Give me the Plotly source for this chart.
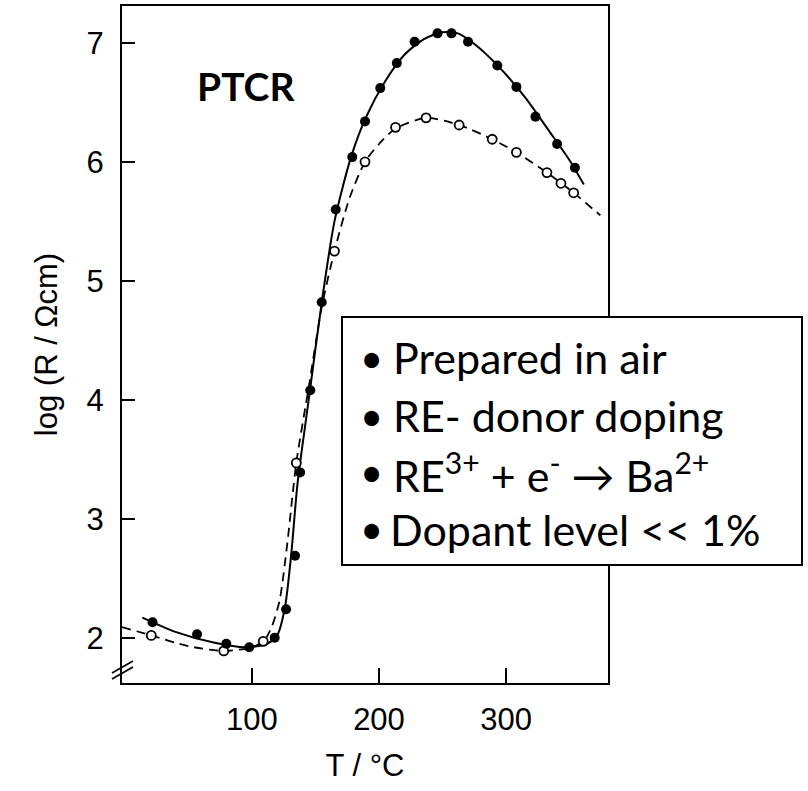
import plotly.graph_objects as go

# ---- data ----
# filled circles (solid curve series)
solid_T = [22, 57, 80, 98, 118, 127, 134, 138, 146, 155, 166, 179, 189, 201, 214, 228, 246, 257, 270, 293, 308, 323, 340, 354]
solid_logR = [2.13, 2.03, 1.95, 1.92, 2.00, 2.24, 2.69, 3.39, 4.08, 4.82, 5.60, 6.04, 6.34, 6.62, 6.83, 7.01, 7.08, 7.08, 7.01, 6.81, 6.63, 6.38, 6.15, 5.95]
# solid fitted curve
solid_curve_T = [14, 40, 70, 95, 112, 120, 126, 131, 136, 145, 155, 165, 178, 190, 205, 220, 235, 250, 262, 275, 295, 315, 335, 350, 361]
solid_curve_logR = [2.17, 2.05, 1.96, 1.92, 1.95, 2.02, 2.25, 2.70, 3.30, 4.02, 4.82, 5.50, 6.04, 6.38, 6.68, 6.90, 7.03, 7.09, 7.08, 6.99, 6.79, 6.54, 6.24, 6.01, 5.81]

# open circles (dashed curve series)
open_T = [21, 78, 109, 135, 165, 189, 213, 237, 263, 289, 308, 332, 343, 353]
open_logR = [2.02, 1.89, 1.97, 3.47, 5.25, 6.00, 6.29, 6.37, 6.31, 6.19, 6.08, 5.91, 5.82, 5.74]
# dashed fitted curve
dash_curve_T = [-2, 21, 50, 78, 100, 110, 116, 122, 128, 135, 145, 155, 165, 177, 189, 200, 213, 237, 263, 289, 308, 332, 353, 374]
dash_curve_logR = [2.09, 2.02, 1.93, 1.89, 1.92, 1.98, 2.10, 2.32, 2.80, 3.47, 4.12, 4.78, 5.25, 5.70, 6.00, 6.15, 6.28, 6.37, 6.31, 6.19, 6.08, 5.91, 5.74, 5.55]

x_ticks = [100, 200, 300]
y_ticks = [2, 3, 4, 5, 6, 7]

box_lines = [
    "Prepared in air",
    "RE- donor doping",
    "RE<sup>3+</sup> + e<sup>-</sup> → Ba<sup>2+</sup>",
    "Dopant level << 1%",
]

# ---- figure ----
W, H = 808, 791
ML, MR, MT, MB = 122, 200, 6, 108
PW, PH = W - ML - MR, H - MT - MB

def px(xp):
    return (xp - ML) / PW

def py(yp):
    return (H - MB - yp) / PH

fig = go.Figure()

fig.add_trace(go.Scatter(x=dash_curve_T, y=dash_curve_logR, mode="lines",
                         line=dict(color="black", width=1.8, dash="9px,6px", shape="spline", smoothing=0.7),
                         showlegend=False, hoverinfo="skip"))
fig.add_trace(go.Scatter(x=solid_curve_T, y=solid_curve_logR, mode="lines",
                         line=dict(color="black", width=2, shape="spline", smoothing=0.7),
                         showlegend=False, hoverinfo="skip"))
fig.add_trace(go.Scatter(x=open_T, y=open_logR, mode="markers",
                         marker=dict(symbol="circle", size=9, color="white", line=dict(color="black", width=1.8)),
                         showlegend=False))
fig.add_trace(go.Scatter(x=solid_T, y=solid_logR, mode="markers",
                         marker=dict(symbol="circle", size=10, color="black"),
                         showlegend=False))

axis_font = dict(family="Liberation Sans, Arial, sans-serif", size=31, color="black")

fig.update_xaxes(range=[-2, 380], tickvals=x_ticks, ticks="inside", ticklen=15, tickwidth=1.5,
                 tickcolor="black", showline=True, linecolor="black", linewidth=2, mirror=True,
                 showgrid=False, zeroline=False, tickfont=axis_font, ticklabelstandoff=8,
                 title=dict(text="T / °C", font=axis_font, standoff=18))
fig.update_yaxes(range=[1.62, 7.31], tickvals=y_ticks, ticks="inside", ticklen=13, tickwidth=1.5,
                 tickcolor="black", showline=True, linecolor="black", linewidth=2, mirror=True,
                 showgrid=False, zeroline=False, tickfont=axis_font, ticklabelstandoff=10,
                 title=dict(text="log (R / Ωcm)", font=axis_font, standoff=20))

shapes = []
# axis break marks
for dy in (0, 6):
    shapes.append(dict(type="line", xref="paper", yref="paper",
                       x0=px(112), y0=py(673 + dy), x1=px(133), y1=py(661 + dy),
                       line=dict(color="black", width=1.8), layer="above"))
# text box
shapes.append(dict(type="rect", xref="paper", yref="paper",
                   x0=px(342), x1=px(802), y0=py(565), y1=py(317),
                   line=dict(color="black", width=2), fillcolor="white", layer="above"))
fig.update_layout(shapes=shapes)

ann = []
ann.append(dict(text="<b>PTCR</b>", xref="paper", yref="paper", x=px(246), y=py(86),
                showarrow=False, xanchor="center", yanchor="middle",
                font=dict(family="Lato, sans-serif", size=39, color="black")))
line_y = [358, 416, 472, 529]
text_x = [391, 391, 391, 388]
for t, yy, xx in zip(box_lines, line_y, text_x):
    ann.append(dict(text="•", xref="paper", yref="paper", x=px(371), y=py(yy),
                    showarrow=False, xanchor="center", yanchor="middle",
                    font=dict(family="Lato, sans-serif", size=40, color="black")))
    ann.append(dict(text=t, xref="paper", yref="paper", x=px(xx), y=py(yy),
                    showarrow=False, xanchor="left", yanchor="middle",
                    font=dict(family="Lato, sans-serif", size=43, color="black")))
fig.update_layout(annotations=ann)

fig.update_layout(width=W, height=H, margin=dict(l=ML, r=MR, t=MT, b=MB, autoexpand=False),
                  paper_bgcolor="white", plot_bgcolor="white")

fig.write_html("out.html")
